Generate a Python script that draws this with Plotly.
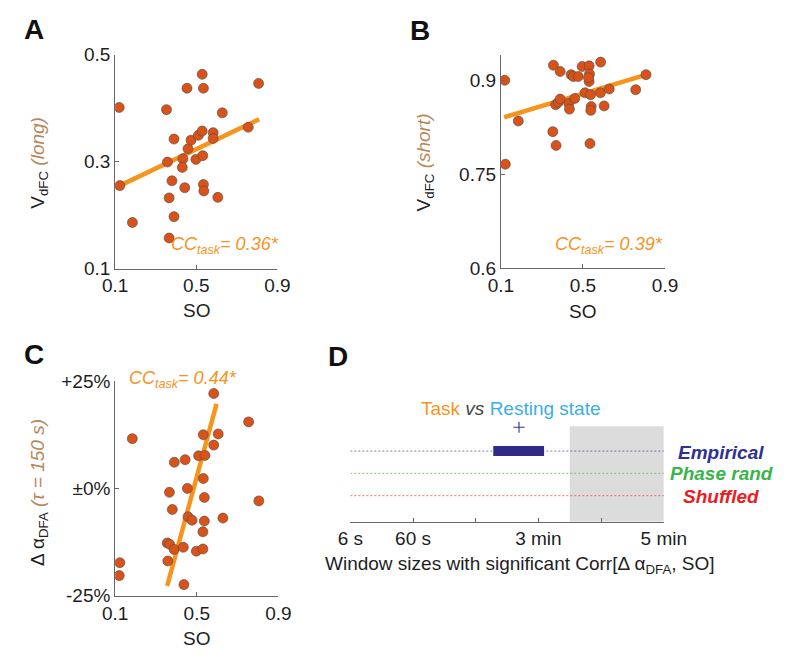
import plotly.graph_objects as go

W, H = 795, 661
FONT = "Liberation Sans, Arial, Helvetica, sans-serif"

# ---------------- data ----------------
# Panel A: SO vs V_dFC (long)
so_a = [0.120, 0.123, 0.185, 0.353, 0.358, 0.366, 0.366, 0.380, 0.390, 0.390,
        0.434, 0.431, 0.443, 0.454, 0.459, 0.474, 0.498, 0.510, 0.529, 0.529,
        0.535, 0.532, 0.535, 0.537, 0.583, 0.583, 0.606, 0.628, 0.756, 0.807]
vdfc_long = [0.401, 0.255, 0.186, 0.397, 0.299, 0.232, 0.157, 0.264, 0.197, 0.342,
             0.305, 0.289, 0.251, 0.437, 0.324, 0.340, 0.304, 0.349, 0.357, 0.463,
             0.437, 0.311, 0.257, 0.245, 0.354, 0.343, 0.233, 0.391, 0.364, 0.446]
fit_a_x = [0.123, 0.810]
fit_a_y = [0.255, 0.379]

# Panel B: SO vs V_dFC (short)
so_b = [0.119, 0.122, 0.185, 0.353, 0.356, 0.369, 0.367, 0.380, 0.389, 0.389,
        0.431, 0.434, 0.442, 0.453, 0.460, 0.477, 0.496, 0.510, 0.530, 0.532,
        0.530, 0.527, 0.537, 0.540, 0.538, 0.534, 0.586, 0.585, 0.603, 0.628,
        0.757, 0.807]
vdfc_short = [0.900, 0.766, 0.835, 0.818, 0.924, 0.796, 0.861, 0.865, 0.870, 0.914,
              0.863, 0.854, 0.909, 0.906, 0.871, 0.906, 0.922, 0.880, 0.923, 0.910,
              0.898, 0.904, 0.877, 0.858, 0.852, 0.799, 0.929, 0.880, 0.859, 0.886,
              0.885, 0.909]
fit_b_x = [0.116, 0.810]
fit_b_y = [0.841, 0.909]

# Panel C: SO vs change in alpha_DFA (%)
so_c = [0.583, 0.754, 0.184, 0.532, 0.605, 0.583, 0.509, 0.540, 0.390, 0.443,
        0.532, 0.454, 0.366, 0.537, 0.804, 0.380, 0.457, 0.477, 0.537, 0.628,
        0.530, 0.355, 0.367, 0.389, 0.434, 0.498, 0.530, 0.358, 0.123, 0.120,
        0.437]
dalpha = [22.1, 15.5, 11.6, 12.5, 12.7, 10.1, 7.6, 7.7, 6.1, 6.7,
          2.3, 0.0, -0.9, -2.1, -2.9, -4.9, -6.6, -7.4, -7.6, -6.9,
          -10.1, -12.7, -13.0, -14.2, -13.7, -14.6, -14.1, -16.9, -17.3, -20.3,
          -22.4]
fit_c_x = [0.355, 0.597]
fit_c_y = [-22.7, 19.7]

so_ticks = [0.1, 0.5, 0.9]
ticks_a = [0.1, 0.3, 0.5]
ticks_b = [0.6, 0.75, 0.9]
ticks_c = [-25, 0, 25]
ticktext_c = ["-25%", "±0%", "+25%"]

# Panel D: window sizes
win_major = [0, 1, 3, 5]
win_labels = ["6 s", "60 s", "3 min", "5 min"]
win_minor = [2, 4]
rows = ["Shuffled", "Phase rand", "Empirical"]
row_pos = [1, 2, 3]
row_colors = ["#ed1c24", "#39b54a", "#2e3192"]
line_colors = ["#f05040", "#50c050", "#5a5ab8"]
sig_start = 2.28
sig_end = 3.09
sig_row = 3
plus_x = [2.69]
plus_y = [4.07]
excl_start, excl_end = 3.5, 5.0
win_min, win_max = 0, 5

# ---------------- styling ----------------
ORANGE = "#f7941d"
MARK = "#d95319"
TAN = "#b8865b"
AXC = "#666666"
TXT = "#1e1e1e"


def xd(a, b):
    return [a / W, b / W]


def yd(top, bottom):
    return [1 - bottom / H, 1 - top / H]


fig = go.Figure()

# scatter panels
for xs, ys, fx, fy, ax in [(so_a, vdfc_long, fit_a_x, fit_a_y, ""),
                            (so_b, vdfc_short, fit_b_x, fit_b_y, "2"),
                            (so_c, dalpha, fit_c_x, fit_c_y, "3")]:
    fig.add_trace(go.Scatter(x=fx, y=fy, mode="lines",
                             line=dict(color=ORANGE, width=4.5),
                             xaxis="x" + ax, yaxis="y" + ax, showlegend=False,
                             hoverinfo="skip"))
    fig.add_trace(go.Scatter(x=xs, y=ys, mode="markers",
                             marker=dict(color=MARK, size=10,
                                         line=dict(color="#4a4a4a", width=0.6)),
                             xaxis="x" + ax, yaxis="y" + ax, showlegend=False))

# panel D dotted lines
for rp, lc in zip(row_pos, line_colors):
    fig.add_trace(go.Scatter(x=[win_min, win_max], y=[rp, rp], mode="lines",
                             line=dict(color=lc, width=1, dash="2px,2px"),
                             opacity=0.8, xaxis="x4", yaxis="y4", showlegend=False))
# significant window bar (thick segment drawn above the dotted line)
fig.add_trace(go.Scatter(x=[sig_start, sig_end], y=[sig_row, sig_row], mode="lines",
                         line=dict(color="#2e2a86", width=10),
                         xaxis="x4", yaxis="y4", showlegend=False))
fig.add_trace(go.Scatter(x=plus_x, y=plus_y, mode="markers",
                         marker=dict(symbol="cross-thin", size=8,
                                     line=dict(color="#2e3192", width=1.1)),
                         cliponaxis=False, xaxis="x4", yaxis="y4", showlegend=False))

# gray excluded region
fig.add_shape(type="rect", xref="x4", yref="y4 domain", x0=excl_start, x1=excl_end,
              y0=0, y1=1, fillcolor="#dcdcdc", line=dict(width=0), layer="below")

axis_common = dict(showline=True, linecolor=AXC, linewidth=1, ticks="inside",
                   ticklen=4, tickcolor=AXC, showgrid=False, zeroline=False,
                   tickfont=dict(family=FONT, size=19, color=TXT), mirror=False)

fig.update_layout(
    width=W, height=H, margin=dict(l=0, r=0, t=0, b=0),
    paper_bgcolor="white", plot_bgcolor="rgba(0,0,0,0)",
    font=dict(family=FONT, color=TXT), showlegend=False,
    xaxis=dict(domain=xd(107, 277), range=[0.1, 0.9], tickvals=so_ticks,
               anchor="y", **axis_common),
    yaxis=dict(domain=yd(46, 267), range=[0.1, 0.5], tickvals=ticks_a,
               anchor="x", **axis_common),
    xaxis2=dict(domain=xd(511, 683), range=[0.1, 0.9], tickvals=so_ticks,
                anchor="y2", **axis_common),
    yaxis2=dict(domain=yd(46.7, 266.7), range=[0.6, 0.94], tickvals=ticks_b,
                anchor="x2", **axis_common),
    xaxis3=dict(domain=xd(107, 278), range=[0.1, 0.9], tickvals=so_ticks,
                anchor="y3", **axis_common),
    yaxis3=dict(domain=yd(383.3, 605), range=[-25, 25], tickvals=ticks_c,
                ticktext=ticktext_c, anchor="x3", **axis_common),
    xaxis4=dict(domain=xd(353.3, 681.7), range=[win_min, win_max], tickvals=win_major,
                ticktext=win_labels, anchor="y4",
                minor=dict(tickvals=win_minor, ticks="inside", ticklen=4,
                           tickcolor=AXC),
                **axis_common),
    yaxis4=dict(domain=yd(430, 528.3), range=[-0.16, 4.11], visible=False,
                anchor="x4"),
)


def ann(text, x, y, size=19, color=TXT, xanchor="center", yanchor="middle",
        angle=0, bold=False):
    fig.add_annotation(text=text, x=x / W, y=1 - y / H, xref="paper", yref="paper",
                       showarrow=False, xanchor=xanchor, yanchor=yanchor,
                       textangle=angle,
                       font=dict(family=FONT, size=size, color=color,
                                 weight="bold" if bold else "normal"))


# panel letters
ann("A", 22, 20, size=28, color="#111111", bold=True)
ann("B", 426, 21, size=28, color="#111111", bold=True)
ann("C", 22, 356, size=28, color="#111111", bold=True)
ann("D", 340, 358, size=28, color="#111111", bold=True)

# axis titles
ann("SO", 192, 310)
ann("SO", 597, 311)
ann("SO", 192, 649)
ann("V<sub>dFC</sub> <span style='color:%s'><i>(long)</i></span>" % TAN, 27, 158,
    angle=-90)
ann("V<sub>dFC</sub> <span style='color:%s'><i>(short)</i></span>" % TAN, 432, 157,
    angle=-90)
ann("Δ α<sub>DFA</sub> <span style='color:%s'><i>(τ = 150 s)</i></span>" % TAN, 27, 498,
    angle=-90)

# correlation labels
ann("<i>CC<sub>task</sub>= 0.36*</i>", 281, 243, size=18, color=ORANGE, xanchor="right")
ann("<i>CC<sub>task</sub>= 0.39*</i>", 683, 243, size=18, color=ORANGE, xanchor="right")
ann("<i>CC<sub>task</sub>= 0.44*</i>", 119, 382, size=18, color=ORANGE, xanchor="left")

# panel D texts
ann("<span style='color:%s'>Task</span> <i>vs</i> <span style='color:#3aaee8'>Resting state</span>" % ORANGE,
    522, 412, color="#444444")
for name, c, py in zip(rows, row_colors, [502, 479, 457]):
    ann("<b><i>%s</i></b>" % name, 742, py, color=c)
ann("Window sizes with significant Corr[Δ α<sub>DFA</sub>, SO]", 531, 573)

fig.write_html("out.html")
